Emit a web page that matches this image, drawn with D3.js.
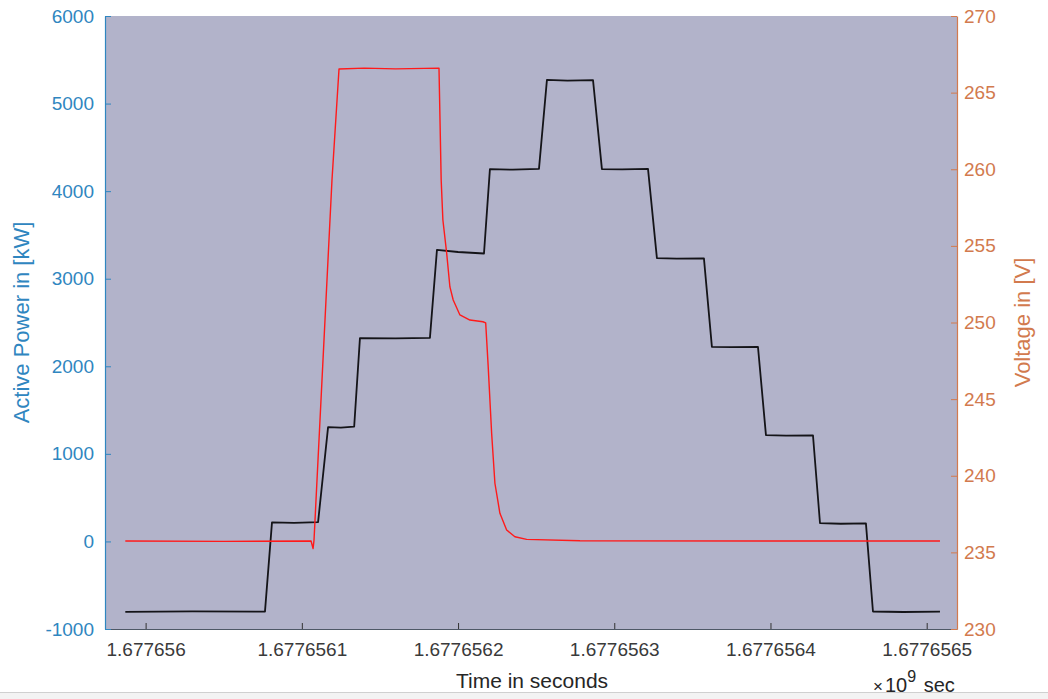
<!DOCTYPE html>
<html>
<head>
<meta charset="utf-8">
<script src="https://cdn.jsdelivr.net/npm/d3@7"></script>
<style>
    body {margin: 0; background: #ffffff;}
    svg {display: block; font-family: "Liberation Sans", Arial, sans-serif;}
</style>
</head>
<body>
<svg id="drawingSpace" width="1048" height="699"></svg>
<script>
//data
//active power (black line), timestamps in seconds
var powerTime = [1677655987, 1677656030, 1677656076.4, 1677656080.9, 1677656095, 1677656110.4,
    1677656116.8, 1677656125, 1677656133.5, 1677656137.2, 1677656160, 1677656182,
    1677656186.5, 1677656200, 1677656216.6, 1677656220.4, 1677656235, 1677656251.8,
    1677656256.9, 1677656270, 1677656286.4, 1677656292.1, 1677656305, 1677656321.6,
    1677656327.3, 1677656340, 1677656357.4, 1677656362.5, 1677656375, 1677656392,
    1677656397.1, 1677656410, 1677656427.2, 1677656431.7, 1677656445, 1677656461.1,
    1677656465.6, 1677656485, 1677656508.5];
var powerKW = [-805, -798, -802, 218, 212, 220,
    1306, 1300, 1310, 2322, 2318, 2325,
    3330, 3305, 3288, 4252, 4245, 4255,
    5270, 5262, 5268, 4252, 4248, 4255,
    3235, 3230, 3232, 2222, 2218, 2220,
    1214, 1208, 1212, 208, 202, 206,
    -800, -806, -802];

//voltage (red line)
var voltTime = [1677655987, 1677656050, 1677656105.9, 1677656107.2, 1677656107.8, 1677656119.3,
    1677656123.8, 1677656140, 1677656160, 1677656187.8, 1677656189.2, 1677656190.3,
    1677656192.7, 1677656194.8, 1677656196.9, 1677656201.2, 1677656207.6, 1677656215.9,
    1677656217.7, 1677656219.3, 1677656221.5, 1677656223.6, 1677656226.8, 1677656231.1,
    1677656236.4, 1677656243.9, 1677656278, 1677656400, 1677656508.5];
var voltageV = [235.74, 235.72, 235.74, 235.25, 235.8, 259.3,
    266.54, 266.6, 266.55, 266.6, 259.3, 256.69,
    254.54, 252.32, 251.47, 250.49, 250.16, 250.05,
    249.97, 247.12, 242.77, 239.51, 237.55, 236.46,
    236.02, 235.85, 235.76, 235.74, 235.74];

//axis limits and ticks
var timeLimits = [1677655974, 1677656519.4],
    powerLimits = [-1000, 6000],
    voltLimits = [230, 270];
var timeTicks = [1677656000, 1677656100, 1677656200, 1677656300, 1677656400, 1677656500],
    powerTicks = [-1000, 0, 1000, 2000, 3000, 4000, 5000, 6000],
    voltTicks = [230, 235, 240, 245, 250, 255, 260, 265, 270];

//colours
var blue = "#2f86c0",
    orange = "#d27a4e",
    plotBg = "#b2b3ca";

var svg = d3.select("#drawingSpace"),
    margin = {top: 16, left: 105, bottom: 70, right: 91},
    width = +svg.attr("width"),
    height = +svg.attr("height"),
    chartWidth = width - margin.left - margin.right,
    chartHeight = height - margin.top - margin.bottom;

//scales
var x = d3.scaleLinear().domain(timeLimits).range([0, chartWidth]),
    yPower = d3.scaleLinear().domain(powerLimits).range([chartHeight, 0]),
    yVolt = d3.scaleLinear().domain(voltLimits).range([chartHeight, 0]);

//thin grey strip at the bottom of the screenshot
svg.append("rect").attr("x", 0).attr("y", 692).attr("width", width).attr("height", 7).attr("fill", "#f3f3f3");
svg.append("line").attr("x1", 0).attr("x2", width).attr("y1", 692.5).attr("y2", 692.5)
    .attr("stroke", "#d0d0d0").attr("stroke-width", 1);

var chartLayer = svg.append("g")
    .attr("transform", "translate(" + [margin.left, margin.top] + ")");

//plot background
chartLayer.append("rect")
    .attr("width", chartWidth)
    .attr("height", chartHeight)
    .attr("fill", plotBg);

chartLayer.append("clipPath").attr("id", "clip")
    .append("rect").attr("width", chartWidth).attr("height", chartHeight);

//lines
var powerLine = d3.line()
    .x(function (d, i) { return x(powerTime[i]); })
    .y(function (d) { return yPower(d); });

var voltLine = d3.line()
    .x(function (d, i) { return x(voltTime[i]); })
    .y(function (d) { return yVolt(d); });

var lines = chartLayer.append("g").attr("clip-path", "url(#clip)");

lines.append("path")
    .datum(powerKW)
    .attr("d", powerLine)
    .attr("fill", "none")
    .attr("stroke", "#141418")
    .attr("stroke-width", 1.8)
    .attr("stroke-linejoin", "round");

lines.append("path")
    .datum(voltageV)
    .attr("d", voltLine)
    .attr("fill", "none")
    .attr("stroke", "#ff1a1a")
    .attr("stroke-width", 1.4)
    .attr("stroke-linejoin", "round");

//plain integer labels with ascii minus, like matlab
function plainNum(d) {
    return String(d);
}

//x axis (ticks point inwards like matlab)
var xAxis = chartLayer.append("g")
    .attr("transform", "translate(0," + chartHeight + ")")
    .call(d3.axisBottom(x)
        .tickValues(timeTicks)
        .tickSizeInner(-6)
        .tickSizeOuter(0)
        .tickPadding(14)
        .tickFormat(function (d) { return String(+(d / 1e9).toFixed(7)); }));
xAxis.select(".domain").attr("stroke", "#4e5866").attr("stroke-width", 1.2);
xAxis.selectAll(".tick line").attr("stroke", "#333");
xAxis.selectAll("text").attr("fill", "#3a3a3a").attr("font-size", 19);

//left axis
var leftAxis = chartLayer.append("g")
    .call(d3.axisLeft(yPower)
        .tickValues(powerTicks)
        .tickSizeInner(-6)
        .tickSizeOuter(0)
        .tickPadding(11)
        .tickFormat(plainNum));
leftAxis.select(".domain").attr("stroke", blue).attr("stroke-width", 1.2);
leftAxis.selectAll(".tick line").attr("stroke", blue);
leftAxis.selectAll("text").attr("fill", blue).attr("font-size", 19);

//right axis
var rightAxis = chartLayer.append("g")
    .attr("transform", "translate(" + chartWidth + ",0)")
    .call(d3.axisRight(yVolt)
        .tickValues(voltTicks)
        .tickSizeInner(-6)
        .tickSizeOuter(0)
        .tickPadding(7)
        .tickFormat(plainNum));
rightAxis.select(".domain").attr("stroke", orange).attr("stroke-width", 1.2);
rightAxis.selectAll(".tick line").attr("stroke", orange);
rightAxis.selectAll("text").attr("fill", orange).attr("font-size", 19);

//axis labels
svg.append("text")
    .attr("transform", "translate(29," + (margin.top + chartHeight / 2) + ") rotate(-90)")
    .attr("text-anchor", "middle")
    .attr("fill", blue)
    .attr("font-size", 22)
    .text("Active Power in [kW]");

svg.append("text")
    .attr("transform", "translate(1030," + (margin.top + chartHeight / 2) + ") rotate(-90)")
    .attr("text-anchor", "middle")
    .attr("fill", orange)
    .attr("font-size", 22)
    .text("Voltage in [V]");

svg.append("text")
    .attr("x", 532)
    .attr("y", 688)
    .attr("text-anchor", "middle")
    .attr("fill", "#262626")
    .attr("font-size", 21)
    .text("Time in seconds");

//exponent label
var expo = svg.append("text")
    .attr("x", 873)
    .attr("y", 692)
    .attr("fill", "#262626")
    .attr("font-size", 20);
expo.append("tspan").text("\u00d7").attr("font-size", 17);
expo.append("tspan").text("10").attr("dx", 2);
expo.append("tspan").text("9").attr("dy", -10).attr("font-size", 16);
expo.append("tspan").text(" sec").attr("dy", 10).attr("dx", 2);
</script>
</body>
</html>
